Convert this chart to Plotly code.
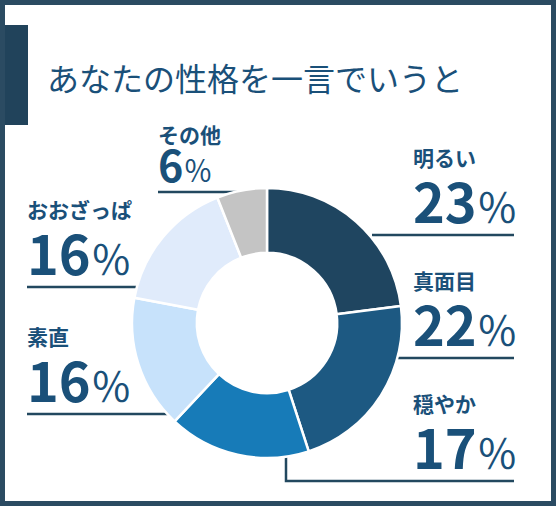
import plotly.graph_objects as go

W, H = 556, 506

title = 'あなたの性格を一言でいうと'
categories = ['明るい', '真面目', '穏やか', '素直', 'おおざっぱ', 'その他']
values = [23, 22, 17, 16, 16, 6]
colors = ['#1f4560', '#1d5982', '#177bb8', '#c7e2fb', '#e0ebfb', '#c4c4c4']

NAVY = '#22485f'
TEXT = '#1a5079'
FONT = 'Noto Sans CJK JP'

# donut geometry in pixels
cx, cy, r = 267, 323, 135


def px(x):
    return x / W


def py(y):
    return 1 - y / H


fig = go.Figure()
fig.add_trace(go.Pie(
    labels=categories, values=values, sort=False, direction='clockwise',
    hole=0.52, textinfo='none', hoverinfo='label+percent',
    marker=dict(colors=colors, line=dict(color='white', width=2.5)),
    domain=dict(x=[px(cx - r), px(cx + r)], y=[py(cy + r), py(cy - r)]),
    showlegend=False,
))

# label layout: (text x, leader line y, line x end, line x start, small label?)
label_pos = [
    (413, 235, 514, 372, False),
    (413, 358, 514, 398, False),
    (413, 481, 514, None, False),
    (27, 414, 27, 168, False),
    (27, 287, 27, 140, False),
    (158, 192, 158, 240, True),
]

shapes = []
annotations = []
for name, val, (tx, liney, x_out, x_in, small) in zip(categories, values, label_pos):
    if small:
        txt = (f'<span style="font-size:21px"><b>{name}</b></span><br>'
               f'<b><span style="font-size:43px">{val}</span></b><span style="font-size:29px">％</span>')
        base, gap = 30, 4
    else:
        txt = (f'<span style="font-size:21px"><b>{name}</b></span><br><br>'
               f'<b><span style="font-size:54px">{val}</span></b><span style="font-size:41px">％</span>')
        base, gap = 22, 6
    annotations.append(dict(
        x=px(tx - 2), y=py(liney + gap), xref='paper', yref='paper', xanchor='left', yanchor='bottom',
        align='left', text=txt, showarrow=False, font=dict(family=FONT, size=base, color=TEXT)))
    if x_in is None:
        # leader goes down from the bottom of the ring, then right
        vx = 286
        shapes.append(dict(type='path', xref='paper', yref='paper', layer='below',
                           path=f'M {px(vx)} {py(cy + r - 20)} L {px(vx)} {py(liney)} L {px(x_out)} {py(liney)}',
                           line=dict(color=NAVY, width=2.5)))
    else:
        shapes.append(dict(type='line', xref='paper', yref='paper', layer='below',
                           x0=px(x_in), x1=px(x_out), y0=py(liney), y1=py(liney),
                           line=dict(color=NAVY, width=2.5)))

# title bar and frame
shapes.append(dict(type='rect', xref='paper', yref='paper', x0=px(3), x1=px(28), y0=py(25), y1=py(125),
                   fillcolor='#21435b', line=dict(width=0)))
shapes.append(dict(type='rect', xref='paper', yref='paper', x0=px(2.5), x1=px(W - 2.5), y0=py(2.5),
                   y1=py(H - 2.5), line=dict(color='#2b4b62', width=5)))
annotations.append(dict(
    x=px(45), y=py(77), xref='paper', yref='paper', xanchor='left', yanchor='middle',
    text=title, showarrow=False, font=dict(family=FONT, size=32, color=TEXT)))

fig.update_layout(
    width=W, height=H, margin=dict(l=0, r=0, t=0, b=0),
    paper_bgcolor='white', plot_bgcolor='white',
    shapes=shapes, annotations=annotations,
)
fig.write_html('out.html', config={'displayModeBar': False},
               post_script="document.body.style.margin='0';document.body.style.overflow='hidden';")
